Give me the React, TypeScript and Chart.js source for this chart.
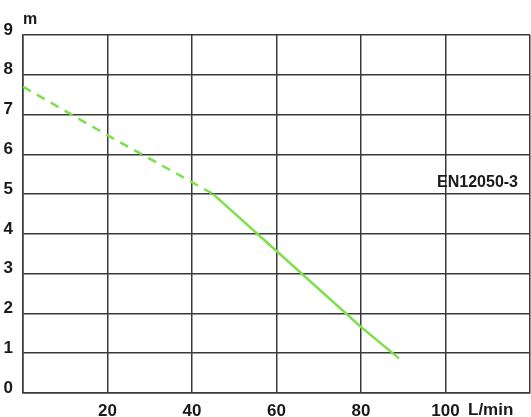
import React, { useEffect, useRef } from "react";
import { Chart, registerables } from "chart.js";

Chart.register(...registerables);

const dashedFlow = [0, 20, 40, 45];
const dashedHead = [7.7, 6.48, 5.3, 5.0];
const solidFlow = [45, 60, 80, 89];
const solidHead = [5.0, 3.57, 1.66, 0.87];
const xTickLabels = [20, 40, 60, 80, 100];
const yTickLabels = [0, 1, 2, 3, 4, 5, 6, 7, 8, 9];
const standardLabel = "EN12050-3";
const xUnit = "L/min";
const yUnit = "m";

const FONT = "'Liberation Sans', Arial, sans-serif";

const textPlugin = {
  id: "extraText",
  afterDraw(chart: any) {
    const { ctx, chartArea, scales } = chart;
    ctx.save();
    ctx.fillStyle = "#1a1a1a";
    ctx.font = `bold 16px ${FONT}`;
    ctx.textBaseline = "middle";
    ctx.textAlign = "left";
    ctx.fillText(yUnit, chartArea.left, 20);
    ctx.font = `bold 17px ${FONT}`;
    ctx.fillText(xUnit, 468, chartArea.bottom + 17);
    ctx.font = `bold 16px ${FONT}`;
    ctx.textAlign = "right";
    ctx.fillText(standardLabel, chartArea.right - 12, scales.y.getPixelForValue(5.28));
    ctx.restore();
  },
};

export default function App() {
  const ref = useRef<HTMLCanvasElement>(null);
  useEffect(() => {
    document.body.style.margin = "0";
    const chart = new Chart(ref.current!, {
      type: "line",
      data: {
        datasets: [
          {
            data: dashedFlow.map((x, i) => ({ x, y: dashedHead[i] })),
            borderColor: "#7ee04a",
            borderWidth: 2.5,
            borderDash: [9, 7],
            pointRadius: 0,
            tension: 0,
          },
          {
            data: solidFlow.map((x, i) => ({ x, y: solidHead[i] })),
            borderColor: "#7ee04a",
            borderWidth: 2.5,
            pointRadius: 0,
            tension: 0,
          },
        ],
      },
      options: {
        responsive: false,
        animation: false,
        events: [],
        layout: { padding: { left: 0, top: 35, right: 1, bottom: 0 } },
        plugins: { legend: { display: false }, tooltip: { enabled: false } },
        scales: {
          x: {
            type: "linear",
            min: 0,
            max: 120,
            afterFit: (s: any) => {
              s.height = 24;
              s.paddingLeft = 0;
              s.paddingRight = 0;
            },
            afterBuildTicks: (s: any) => {
              s.ticks = [0, 20, 40, 60, 80, 100, 120].map((v) => ({ value: v }));
            },
            ticks: {
              padding: 8,
              maxRotation: 0,
              autoSkip: false,
              color: "#1a1a1a",
              font: { family: FONT, size: 17, weight: "bold" },
              callback: (v: any) => (xTickLabels.includes(Number(v)) ? String(v) : ""),
            },
            grid: { color: "#3a3a3a", lineWidth: 1.5, drawTicks: false },
            border: { color: "#3a3a3a", width: 1.5 },
          },
          y: {
            type: "linear",
            min: 0,
            max: 9,
            afterFit: (s: any) => {
              s.width = 23;
              s.paddingTop = 0;
              s.paddingBottom = 0;
            },
            afterBuildTicks: (s: any) => {
              s.ticks = yTickLabels.map((v) => ({ value: v }));
            },
            ticks: {
              padding: 10,
              labelOffset: -5,
              color: "#1a1a1a",
              font: { family: FONT, size: 17, weight: "bold" },
            },
            grid: { color: "#3a3a3a", lineWidth: 1.5, drawTicks: false },
            border: { color: "#3a3a3a", width: 1.5 },
          },
        },
      },
      plugins: [textPlugin],
    } as any);
    return () => chart.destroy();
  }, []);
  return (
    <div style={{ position: "absolute", left: 0, top: 0, width: 531, height: 417 }}>
      <canvas ref={ref} width={531} height={417} />
    </div>
  );
}
